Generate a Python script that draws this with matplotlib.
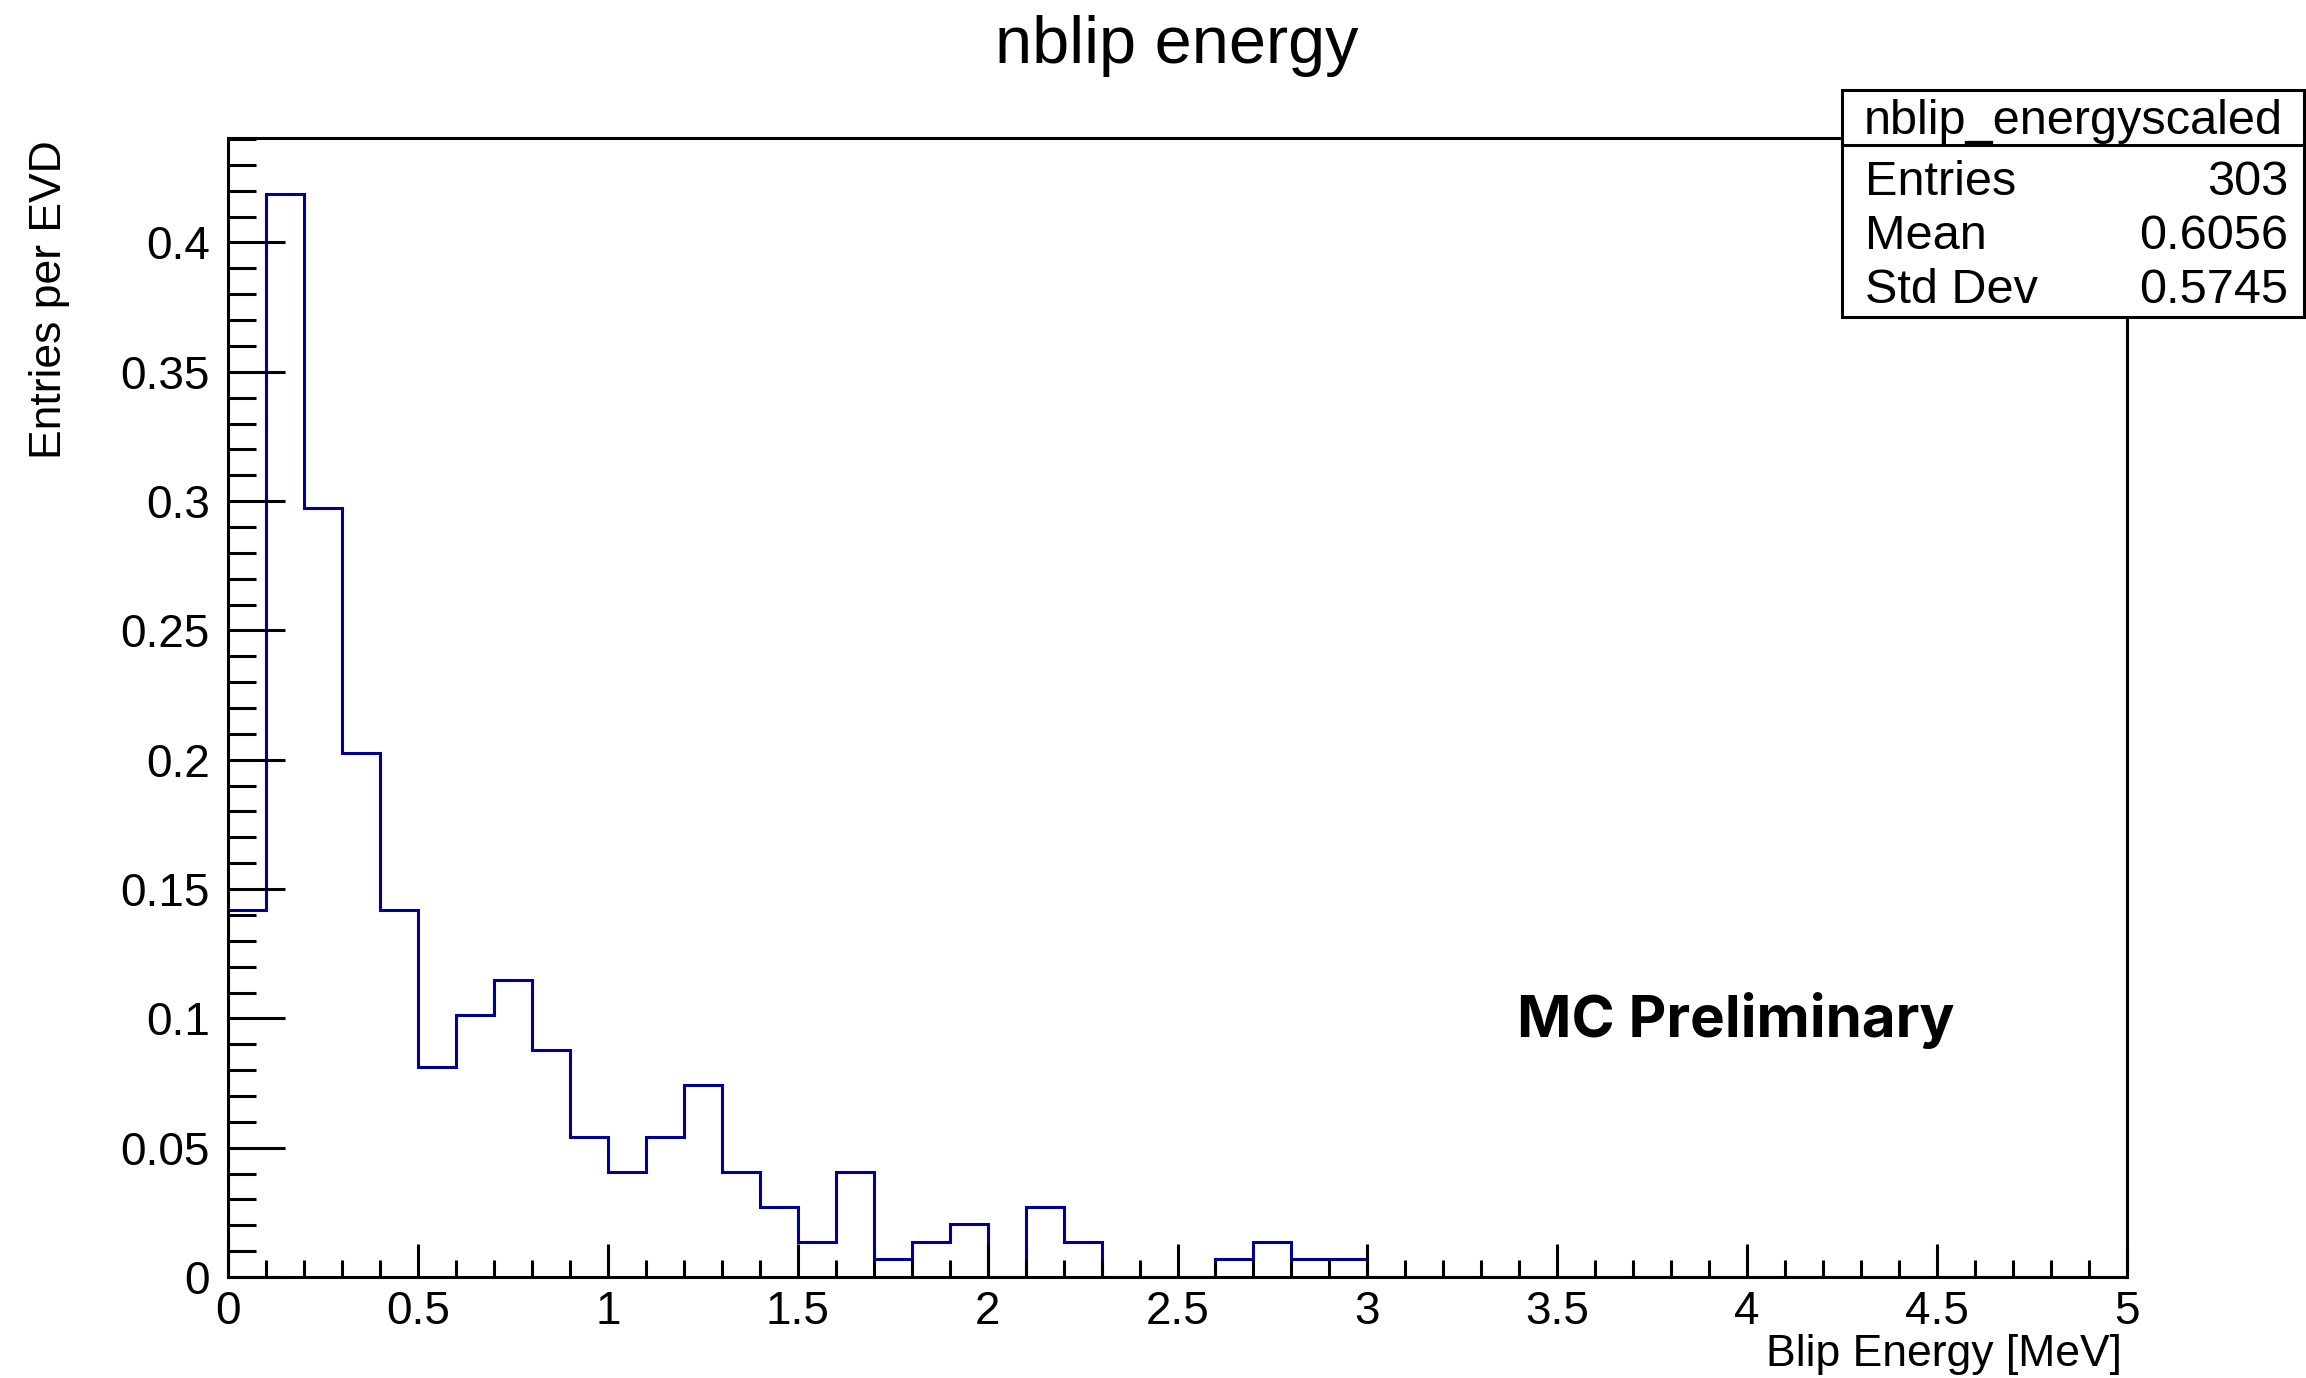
import numpy as np
import matplotlib
matplotlib.use('Agg')
import matplotlib.pyplot as plt
from matplotlib.patches import Rectangle
from matplotlib.lines import Line2D
from matplotlib.ticker import MultipleLocator

plt.rcParams['font.family'] = ['Liberation Sans', 'DejaVu Sans']

# histogram: 50 bins of 0.1 MeV, entries per EVD
bin_edges = np.linspace(0, 5, 51)
entries_per_evd = [0.1419, 0.4189, 0.2973, 0.2027, 0.1419, 0.0811, 0.1014, 0.1149, 0.0878, 0.0541,
                   0.0405, 0.0541, 0.0743, 0.0405, 0.0270, 0.0135, 0.0405, 0.0068, 0.0135, 0.0203,
                   0.0, 0.0270, 0.0135, 0.0, 0.0, 0.0, 0.0068, 0.0135, 0.0068, 0.0068,
                   0.0, 0.0, 0.0, 0.0, 0.0, 0.0, 0.0, 0.0, 0.0, 0.0,
                   0.0, 0.0, 0.0, 0.0, 0.0, 0.0, 0.0, 0.0, 0.0, 0.0]

stat_names = ['Entries', 'Mean', 'Std Dev']
stat_values = ['303', '0.6056', '0.5745']

W, H = 2306, 1378
fig = plt.figure(figsize=(W / 100, H / 100), dpi=100)
ax = fig.add_axes([228 / W, 1 - 1277 / H, (2127 - 228) / W, (1277 - 138) / H])

ax.stairs(entries_per_evd, bin_edges, color='#000099', lw=2.2)
ax.set_xlim(0, 5)
ax.set_ylim(0, 0.4404)

for s in ax.spines.values():
    s.set_linewidth(2.2)
    s.set_zorder(5)

ax.xaxis.set_major_locator(MultipleLocator(0.5))
ax.xaxis.set_minor_locator(MultipleLocator(0.1))
ax.yaxis.set_major_locator(MultipleLocator(0.05))
ax.yaxis.set_minor_locator(MultipleLocator(0.01))
ax.tick_params(which='both', direction='in', width=2.2, top=False, right=False, labelsize=33)
ax.tick_params(axis='x', which='major', length=24, pad=9)
ax.tick_params(axis='x', which='minor', length=12)
ax.tick_params(axis='y', which='major', length=41, pad=13)
ax.tick_params(axis='y', which='minor', length=20)
ax.xaxis.set_major_formatter(plt.FuncFormatter(lambda v, p: f'{v:g}'))
ax.yaxis.set_major_formatter(plt.FuncFormatter(lambda v, p: f'{v:g}'))

fig.text(1177 / W, 1 - 63 / H, 'nblip energy', fontsize=48, ha='center', va='baseline')
fig.text(2122 / W, 1 - 1366 / H, 'Blip Energy [MeV]', fontsize=32, ha='right', va='baseline')
fig.text(50 / W, 1 - 140 / H, 'Entries per EVD', fontsize=32, rotation=90, ha='center', va='top')

fig.text(1517 / W, 1 - 1037 / H, 'MC Preliminary', fontsize=42, fontweight='bold',
         family='Inter', ha='left', va='baseline')

# stats box
bx0, bx1, by0, by1, bsep = 1842, 2304, 90, 317, 145
fig.patches.append(Rectangle((bx0 / W, 1 - by1 / H), (bx1 - bx0) / W, (by1 - by0) / H,
                             transform=fig.transFigure, facecolor='white', edgecolor='black',
                             lw=2.2, zorder=10))
fig.lines.append(Line2D([bx0 / W, bx1 / W], [1 - bsep / H, 1 - bsep / H],
                        transform=fig.transFigure, color='black', lw=2.2, zorder=11))
fig.text((bx0 + bx1) / 2 / W, 1 - 134 / H, 'nblip_energyscaled', fontsize=35,
         ha='center', va='baseline', zorder=12)
for i, (n, v) in enumerate(zip(stat_names, stat_values)):
    yb = 1 - (195 + i * 54) / H
    fig.text(1865 / W, yb, n, fontsize=35, ha='left', va='baseline', zorder=12)
    fig.text(2288 / W, yb, v, fontsize=35, ha='right', va='baseline', zorder=12)

fig.savefig('out.png', dpi=100)
